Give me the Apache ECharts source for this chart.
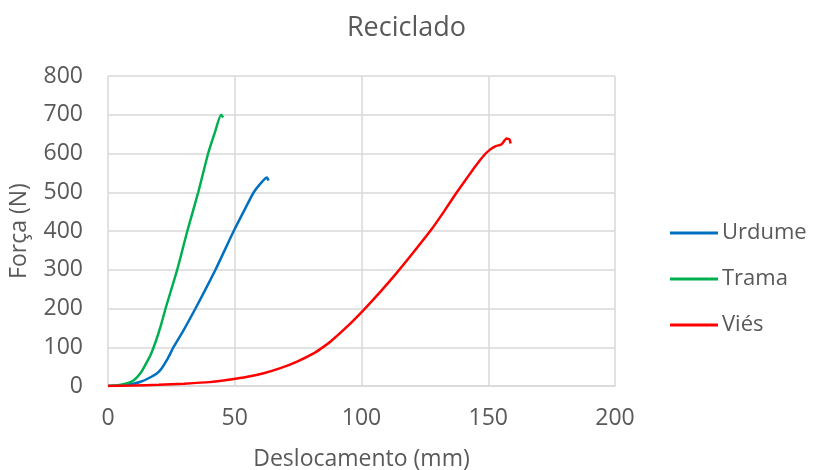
<!DOCTYPE html>
<html><head><meta charset="utf-8">
<script src="https://cdn.jsdelivr.net/npm/echarts@6/dist/echarts.min.js"></script>
<style>html,body{margin:0;padding:0;background:#fff}#c{width:813px;height:470px}</style>
</head><body><div id="c"></div>
<script>
const seriesNames = ['Urdume', 'Trama', 'Viés'];
const urdumeX = [0, 5, 10, 12.9, 16, 19.4, 21.2, 23.5, 26, 29.9, 34.5, 38.5, 42.4, 46, 49.6, 53.5, 57.5, 60.5, 62.7, 63.3];
const urdumeY = [0, 2, 6, 11, 20, 33, 46, 70, 102, 145, 200, 250, 300, 350, 400, 450, 500, 525, 538, 530];
const tramaX = [0, 4, 8, 10.2, 13, 15, 16.8, 19, 20.8, 22.7, 27.3, 31.3, 35.6, 39.5, 42.2, 44.6, 45.4];
const tramaY = [0, 2, 8, 15, 35, 58, 80, 118, 155, 200, 300, 400, 500, 600, 655, 700, 693];
const viesX = [0, 10, 20, 30, 40, 48.3, 55, 61.4, 68, 74.6, 81.1, 85, 87.7, 94.3, 100.8, 107.4, 113.9, 120.5, 127.7, 132.7, 137.6, 141.4, 145, 148.7, 150.7, 152.6, 155.3, 157.2, 158.4, 158.8];
const viesY = [0, 1, 3, 6, 10, 17, 24, 33, 46, 63, 84, 101, 114, 153, 196, 243, 292, 345, 405, 452, 500, 535, 568, 598, 610, 618, 624, 639, 636, 626];
const xTicks = [0, 50, 100, 150, 200];
const yTicks = [0, 100, 200, 300, 400, 500, 600, 700, 800];
const colors = ['#0070C0', '#00B050', '#FF0000'];

const zip = (xs, ys) => xs.map((x, i) => [x, ys[i]]);
const dataSets = [zip(urdumeX, urdumeY), zip(tramaX, tramaY), zip(viesX, viesY)];
const font = 'Open Sans, Noto Sans, sans-serif';
const chart = echarts.init(document.getElementById('c'));
chart.setOption({
  animation: false,
  title: { text: 'Reciclado', left: 'center', top: 10,
    textStyle: { fontFamily: font, fontSize: 27, fontWeight: 'normal', color: '#595959' } },
  grid: { left: 108, right: 198, top: 76, bottom: 84, outerBoundsMode: 'none', containLabel: false },
  legend: {
    orient: 'vertical', left: 665, top: 217, itemGap: 24, itemWidth: 48, itemHeight: 3,
    icon: 'rect',
    textStyle: { fontFamily: font, fontSize: 22, color: '#595959', padding: [0, 0, 0, -1] },
    data: seriesNames
  },
  xAxis: {
    type: 'value', min: xTicks[0], max: xTicks[xTicks.length - 1], interval: 50,
    name: 'Deslocamento (mm)', nameLocation: 'middle', nameGap: 62,
    nameTextStyle: { fontFamily: font, fontSize: 23, color: '#595959' },
    axisLine: { show: true, lineStyle: { color: '#d9d9d9', width: 1.5 } },
    axisTick: { show: false },
    axisLabel: { fontFamily: font, fontSize: 23, color: '#595959', margin: 21 },
    splitLine: { show: true, lineStyle: { color: '#d9d9d9', width: 1.5 } }
  },
  yAxis: {
    type: 'value', min: yTicks[0], max: yTicks[yTicks.length - 1], interval: 100,
    name: 'Força (N)', nameLocation: 'middle', nameGap: 77, nameRotate: 90,
    nameTextStyle: { fontFamily: font, fontSize: 23, color: '#595959' },
    axisLine: { show: false },
    axisTick: { show: false },
    axisLabel: { fontFamily: font, fontSize: 23, color: '#595959', margin: 25 },
    splitLine: { show: true, lineStyle: { color: '#d9d9d9', width: 1.5 } }
  },
  series: seriesNames.map((n, i) => ({
    name: n, type: 'line', data: dataSets[i], smooth: 0.2,
    showSymbol: false, symbol: 'none',
    lineStyle: { color: colors[i], width: 2.5 }, itemStyle: { color: colors[i] }
  }))
});
</script></body></html>
